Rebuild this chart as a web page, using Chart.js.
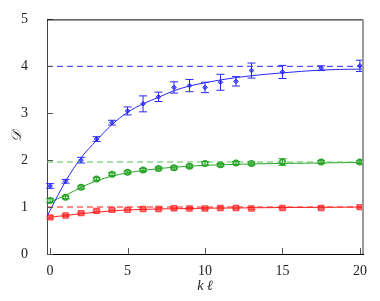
<!DOCTYPE html>
<html>
<head>
<meta charset="utf-8">
<script src="https://cdn.jsdelivr.net/npm/chart.js@4.4.0/dist/chart.umd.min.js"></script>
<style>
  body { margin: 0; background: #fff; }
  #wrap { width: 380px; height: 301px; }
</style>
</head>
<body>
<div id="wrap"><canvas id="diffChart" width="380" height="301"></canvas></div>
<script>
// points mesurés
const kl = [0, 1, 2, 3, 4, 5, 6, 7, 8, 9, 10, 11, 12, 13, 15, 17.5, 20];
const blueD = [1.45, 1.55, 2.0, 2.45, 2.8, 3.05, 3.2, 3.35, 3.55, 3.59, 3.55, 3.66, 3.68, 3.91, 3.88, 3.96, 4.01];
const blueErr = [0.05, 0.04, 0.06, 0.05, 0.05, 0.085, 0.17, 0.1, 0.12, 0.13, 0.11, 0.17, 0.1, 0.16, 0.14, 0.05, 0.12];
const greenD = [1.14, 1.21, 1.42, 1.6, 1.7, 1.74, 1.79, 1.82, 1.84, 1.87, 1.93, 1.9, 1.94, 1.93, 1.96, 1.96, 1.96];
const greenErr = [0.04, 0.03, 0.03, 0.03, 0.03, 0.03, 0.03, 0.03, 0.03, 0.03, 0.04, 0.03, 0.03, 0.03, 0.07, 0.03, 0.03];
const redD = [0.78, 0.82, 0.87, 0.92, 0.94, 0.94, 0.96, 0.96, 0.975, 0.97, 0.97, 0.98, 0.98, 0.97, 0.98, 0.98, 1.0];
const redErr = [0.03, 0.02, 0.02, 0.02, 0.02, 0.02, 0.02, 0.02, 0.02, 0.02, 0.02, 0.02, 0.02, 0.02, 0.02, 0.02, 0.02];

// courbes d'ajustement
const fitX = [-0.2, 0, 1, 2, 3, 4, 5, 6, 7, 8, 9, 10, 11, 12, 13, 15, 17.5, 20, 20.2];
const blueFit = [0.8, 0.93, 1.55, 2.05, 2.42, 2.76, 3.02, 3.2, 3.34, 3.48, 3.58, 3.65, 3.71, 3.76, 3.8, 3.86, 3.92, 3.94, 3.94];
const greenFit = [1.05, 1.1, 1.25, 1.42, 1.56, 1.66, 1.73, 1.78, 1.82, 1.85, 1.87, 1.89, 1.9, 1.91, 1.92, 1.93, 1.94, 1.95, 1.95];
const redFit = [0.76, 0.78, 0.82, 0.86, 0.89, 0.92, 0.94, 0.95, 0.96, 0.965, 0.97, 0.975, 0.98, 0.98, 0.985, 0.99, 0.995, 1.0, 1.0];

// asymptotes
const limits = [4.0, 1.96, 1.0];
const xTicks = [0, 5, 10, 15, 20];
const yTicks = [0, 1, 2, 3, 4, 5];

const BLUE = "rgb(40,40,255)";
const GREEN = "rgb(40,165,40)";
const RED = "rgb(255,30,30)";

const pts = (xs, ys) => xs.map((x, i) => ({ x, y: ys[i] }));
const hline = (y) => [{ x: -0.2, y }, { x: 20.2, y }];

const errorBars = {
  id: "errorBars",
  afterDatasetsDraw(chart) {
    const { ctx, scales: { x, y } } = chart;
    chart.data.datasets.forEach((ds) => {
      if (!ds.err) return;
      ctx.save();
      ctx.strokeStyle = ds.borderColor;
      ctx.lineWidth = 1;
      ds.data.forEach((p, i) => {
        const px = x.getPixelForValue(p.x);
        const top = y.getPixelForValue(p.y + ds.err[i]);
        const bot = y.getPixelForValue(p.y - ds.err[i]);
        ctx.beginPath();
        ctx.moveTo(px, top); ctx.lineTo(px, bot);
        ctx.moveTo(px - 4, top); ctx.lineTo(px + 4, top);
        ctx.moveTo(px - 4, bot); ctx.lineTo(px + 4, bot);
        ctx.stroke();
      });
      ctx.restore();
    });
  }
};

const frame = {
  id: "frame",
  afterDraw(chart) {
    const { ctx, chartArea: a, scales: { x, y } } = chart;
    ctx.save();
    ctx.lineWidth = 1;
    // ticks vers l'intérieur
    ctx.strokeStyle = "#555";
    yTicks.forEach((v) => {
      const py = Math.round(y.getPixelForValue(v)) + 0.5;
      ctx.beginPath(); ctx.moveTo(a.left, py); ctx.lineTo(a.left + 6, py); ctx.stroke();
    });
    xTicks.forEach((v) => {
      const px = Math.round(x.getPixelForValue(v)) + 0.5;
      ctx.beginPath(); ctx.moveTo(px, a.bottom); ctx.lineTo(px, a.bottom - 6); ctx.stroke();
    });
    // cadre haut et droit
    ctx.strokeStyle = "#000";
    ctx.beginPath(); ctx.moveTo(a.left, a.top + 0.5); ctx.lineTo(a.right, a.top + 0.5); ctx.stroke();
    ctx.strokeStyle = "#999";
    ctx.lineWidth = 2;
    ctx.beginPath(); ctx.moveTo(a.right, a.top); ctx.lineTo(a.right, a.bottom); ctx.stroke();
    ctx.restore();
  }
};

const ctx = document.getElementById("diffChart").getContext("2d");
new Chart(ctx, {
  type: "scatter",
  data: {
    datasets: [
      { type: "line", data: hline(limits[0]), borderColor: BLUE, borderWidth: 1, borderDash: [6, 4], pointRadius: 0 },
      { type: "line", data: hline(limits[1]), borderColor: "rgba(90,200,90,0.7)", borderWidth: 1.5, borderDash: [6, 4], pointRadius: 0 },
      { type: "line", data: hline(limits[2]), borderColor: "rgba(255,50,50,0.75)", borderWidth: 1.5, borderDash: [6, 4], pointRadius: 0 },
      { type: "line", data: pts(fitX, blueFit), borderColor: BLUE, borderWidth: 1, pointRadius: 0, cubicInterpolationMode: "monotone" },
      { type: "line", data: pts(fitX, greenFit), borderColor: GREEN, borderWidth: 1, pointRadius: 0, cubicInterpolationMode: "monotone" },
      { type: "line", data: pts(fitX, redFit), borderColor: RED, borderWidth: 1, pointRadius: 0, cubicInterpolationMode: "monotone" },
      { data: pts(kl, blueD), err: blueErr, borderColor: BLUE, backgroundColor: "rgba(40,40,255,0.6)", pointStyle: "rectRot", pointRadius: 2.3, borderWidth: 1 },
      { data: pts(kl, greenD), err: greenErr, borderColor: GREEN, backgroundColor: "rgba(120,210,120,0.35)", pointStyle: "circle", pointRadius: 2.8, borderWidth: 1.4 },
      { data: pts(kl, redD), err: redErr, borderColor: "rgba(255,30,30,0.8)", backgroundColor: "rgba(255,80,80,0.3)", pointStyle: "rect", pointRadius: 3.5, borderWidth: 1.4 }
    ]
  },
  options: {
    responsive: false,
    animation: false,
    layout: { padding: { top: 18, right: 17, left: 0, bottom: 0 } },
    plugins: { legend: { display: false }, tooltip: { enabled: false } },
    scales: {
      x: {
        type: "linear", min: -0.2, max: 20.2,
        afterBuildTicks: (s) => { s.ticks = xTicks.map((v) => ({ value: v })); },
        afterFit: (s) => { s.height = 47; },
        grid: { display: false },
        border: { color: "#000", width: 1 },
        ticks: { color: "#222", font: { family: "Liberation Serif", size: 14 }, padding: 1 },
        title: { display: true, text: "k ℓ", color: "#222", padding: { top: 0, bottom: 6 }, font: { family: "Liberation Serif", size: 14, style: "italic" } }
      },
      y: {
        min: 0, max: 5,
        afterBuildTicks: (s) => { s.ticks = yTicks.map((v) => ({ value: v })); },
        afterFit: (s) => { s.width = 47; },
        grid: { display: false },
        border: { color: "#444", width: 1 },
        ticks: { color: "#222", font: { family: "Liberation Serif", size: 14 }, padding: 11 },
        title: { display: true, text: "𝒟", color: "#222", padding: { top: 9, bottom: 0 }, font: { family: "DejaVu Serif, Noto Sans, serif", size: 14, style: "italic" } }
      }
    }
  },
  plugins: [errorBars, frame]
});
</script>
</body>
</html>
